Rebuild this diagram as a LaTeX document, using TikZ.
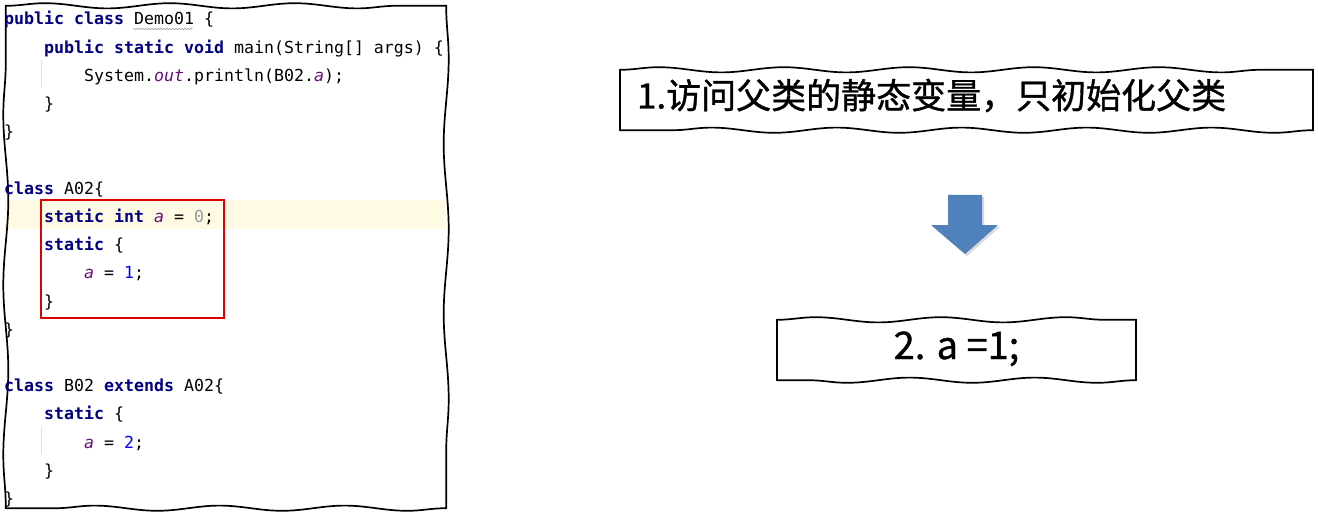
\documentclass[tikz,border=0pt]{standalone}
\usepackage{fontspec}
\setmonofont{DejaVu Sans Mono}
\newfontfamily\cjk[FakeBold=1]{Noto Sans CJK SC}
\usetikzlibrary{decorations.pathmorphing,shadows}

\definecolor{kwblue}{HTML}{000080}
\definecolor{fldpurple}{HTML}{660E7A}
\definecolor{numblue}{HTML}{0000FF}
\definecolor{numgray}{HTML}{9A9A9A}
\definecolor{hlyellow}{HTML}{FFFAE3}
\definecolor{framered}{HTML}{DD0000}
\definecolor{arrowblue}{HTML}{4F81BD}

\newcommand{\kw}[1]{\textcolor{kwblue}{\bfseries #1}}
\newcommand{\fld}[1]{\textcolor{fldpurple}{\itshape #1}}
\newcommand{\numlit}[1]{\textcolor{numblue}{#1}}
% hand drawn frame round a named node
\newcommand{\sketchframe}[1]{%
  \draw[wavyh] (#1.north west) -- (#1.north east);
  \draw[wavyv] (#1.north east) -- (#1.south east);
  \draw[wavyh] (#1.south east) -- (#1.south west);
  \draw[wavyv] (#1.south west) -- (#1.north west);}

\tikzset{
  wavy/.style={line width=1.7pt, line cap=round, line join=round, decorate},
  wavyh/.style={wavy, decoration={snake, segment length=125pt, amplitude=2.6pt}},
  wavyv/.style={wavy, decoration={snake, segment length=170pt, amplitude=2.5pt}},
  codeline/.style={anchor=base west, inner sep=0pt,
    font=\fontsize{16.6}{20}\selectfont\ttfamily},
  redframe/.style={draw=framered, line width=2.6pt, inner sep=0pt},
  guide/.style={draw=black!12, line width=.8pt},
  stepbox/.style={inner sep=0pt, minimum height=60pt}
}

\begin{document}
\begin{tikzpicture}[x=1pt,y=-1pt]
\useasboundingbox (0,0) rectangle (1318,516);

% code panel
\fill[hlyellow] (5,200) rectangle (445,229);
\node[minimum width=440pt, minimum height=502pt, inner sep=0pt] (code) at (226,257) {};
\sketchframe{code}
\draw[guide] (41,60) -- (41,87);
\draw[guide] (41,427) -- (41,454);
\draw[black!40, line width=.5pt, decorate, decoration={snake, segment length=3pt, amplitude=.7pt}] (133,29) -- (193,29);

\node[codeline] (l1) at (4,25) {\kw{public} \kw{class} Demo01 \{};
\node[codeline] (l2) at (44,53.2) {\kw{public} \kw{static} \kw{void} main(String[] args) \{};
\node[codeline] (l3) at (84,81.4) {System.\fld{out}.println(B02.\fld{a});};
\node[codeline] (l4) at (44,109.6) {\}};
\node[codeline] (l5) at (4,137.8) {\}};
\node[codeline] (l7) at (4,194.2) {\kw{class} A02\{};
\node[codeline] (l8) at (44,222.4) {\kw{static} \kw{int} \fld{a} = \textcolor{numgray}{0};};
\node[codeline] (l9) at (44,250.6) {\kw{static} \{};
\node[codeline] (l10) at (84,278.8) {\fld{a} = \numlit{1};};
\node[codeline] (l11) at (44,307) {\}};
\node[codeline] (l12) at (4,335.2) {\}};
\node[codeline] (l14) at (4,391.6) {\kw{class} B02 \kw{extends} A02\{};
\node[codeline] (l15) at (44,419.8) {\kw{static} \{};
\node[codeline] (l16) at (84,448) {\fld{a} = \numlit{2};};
\node[codeline] (l17) at (44,476.2) {\}};
\node[codeline] (l18) at (4,504.4) {\}};

\node[redframe, minimum width=183pt, minimum height=118pt] (block) at (132.5,259) {};

% steps
\node[stepbox, minimum width=693pt, inner xsep=17pt, text width=659pt, align=left,
  text height=24pt, text depth=7pt, font=\cjk\fontsize{35}{40}\selectfont] (step1) at (966.5,100) {1.访问父类的静态变量，只初始化父类};
\sketchframe{step1}
\node[stepbox, minimum width=359pt, text height=24pt, text depth=6pt,
  font=\cjk\fontsize{38}{44}\selectfont] (step2) at (956.5,350) {2. a =1;};
\sketchframe{step2}

\fill[arrowblue, drop shadow={shadow xshift=2pt, shadow yshift=-2pt, opacity=.3}]
  (948,195) -- (982,195) -- (982,225) -- (998,225) -- (965,254) -- (931,225) -- (948,225) -- cycle;
\end{tikzpicture}
\end{document}
